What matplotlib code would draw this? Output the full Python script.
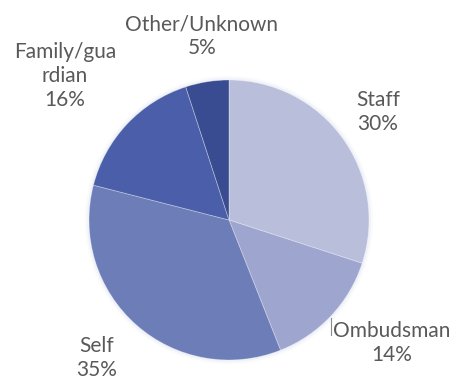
import matplotlib
matplotlib.use("Agg")
import matplotlib.pyplot as plt
from matplotlib.patches import Circle

categories = ["Staff", "Ombudsman", "Self", "Family/gua\nrdian", "Other/Unknown"]
shares = [30, 14, 35, 16, 5]
colors = ["#b9bedb", "#9ea6cf", "#6c7db8", "#4b5ea9", "#3a4c91"]

W, H = 462, 383
fig = plt.figure(figsize=(W / 100, H / 100), dpi=100)
ax = fig.add_axes([0, 0, 1, 1])

center = (229, H - 220)
radius = 140

# soft halo around the pie
for r, a in [(radius + 4, 0.10), (radius + 2, 0.18)]:
    ax.add_patch(Circle(center, r, color="#c9d3ea", alpha=a, lw=0, zorder=0))

wedges, _ = ax.pie(shares, colors=colors, startangle=90, counterclock=False,
                   center=center, radius=radius, frame=True,
                   wedgeprops=dict(edgecolor=(1, 1, 1, 0.35), linewidth=0.6))
ax.set_xlim(0, W)
ax.set_ylim(0, H)
ax.set_aspect("equal")
ax.axis("off")

# label anchor points (pixels from top-left) for each category
label_pos = [(378, 112), (392, 343), (97, 358), (65, 76), (202, 36)]
for name, val, (lx, ly) in zip(categories, shares, label_pos):
    ax.text(lx, H - ly, f"{name}\n{val}%", ha="center", va="center",
            fontsize=15, color="#595959", family="Lato", linespacing=1.22)

# leader line for the Ombudsman label
ax.plot([331, 331], [H - 318, H - 335], color="#8c8c8c", lw=0.8)

fig.savefig("out.png", dpi=100)
